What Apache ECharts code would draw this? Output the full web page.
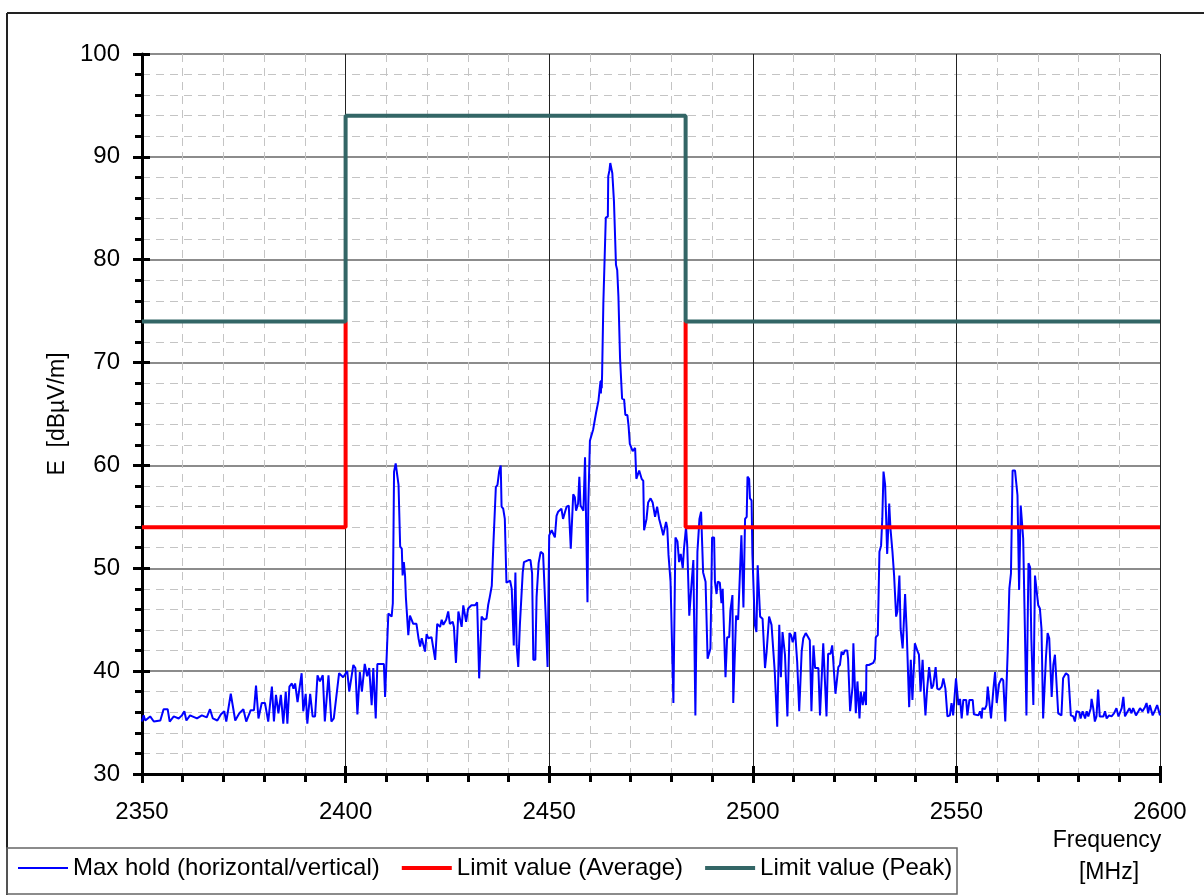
<!DOCTYPE html>
<html>
<head>
<meta charset="utf-8">
<script src="https://cdn.jsdelivr.net/npm/echarts@6/dist/echarts.min.js"></script>
<style>
html,body{margin:0;padding:0;background:#fff;}
#chart{width:1204px;height:895px;}
</style>
</head>
<body>
<div id="chart"></div>
<script>
// ---- data ----
const xTicks = [2350, 2400, 2450, 2500, 2550, 2600];
const yTicks = [30, 40, 50, 60, 70, 80, 90, 100];
const seriesNames = ['Max hold (horizontal/vertical)', 'Limit value (Average)', 'Limit value (Peak)'];
const xAxisTitle = ['Frequency', '[MHz]'];
const yAxisTitle = 'E  [dBµV/m]';

const peakLimitFreq = [2350, 2400, 2400, 2483.5, 2483.5, 2600];
const peakLimitLevel = [74, 74, 94, 94, 74, 74];
const avgLimitLowFreq = [2350, 2400, 2400];
const avgLimitLowLevel = [54, 54, 74];
const avgLimitHighFreq = [2483.5, 2483.5, 2600];
const avgLimitHighLevel = [74, 54, 54];

const maxHoldTrace = [
[2350.0,35.1],[2350.4,35.7],[2350.8,35.2],[2352.0,35.6],[2352.9,35.1],[2354.5,35.2],[2355.3,36.3],[2356.3,36.3],[2356.8,35.1],[2357.8,35.6],
[2359.0,35.4],[2359.8,35.7],[2360.4,36.1],[2360.9,35.2],[2361.8,35.7],[2363.5,35.4],[2364.7,35.7],[2365.9,35.5],[2366.7,36.3],[2367.4,35.4],
[2368.5,35.2],[2369.4,35.8],[2370.2,36.1],[2370.7,35.1],[2371.8,37.8],[2372.9,35.2],[2373.9,35.9],[2374.9,36.3],[2375.6,35.1],[2376.7,36.2],
[2377.5,36.2],[2378.0,38.6],[2378.6,35.4],[2379.4,36.9],[2380.2,36.9],[2381.0,35.1],[2381.9,38.5],[2382.4,35.1],[2382.9,37.7],[2383.5,35.9],
[2384.1,37.7],[2384.7,34.9],[2385.3,38.0],[2385.7,34.9],[2386.2,38.5],[2386.8,38.8],[2387.2,38.3],[2387.6,38.8],[2388.2,37.0],[2389.2,39.8],
[2389.6,36.1],[2390.2,37.8],[2390.6,34.9],[2391.3,37.8],[2391.9,35.6],[2392.5,35.6],[2393.1,39.6],[2393.7,39.0],[2394.4,39.6],[2394.9,35.1],
[2395.8,39.6],[2396.5,35.1],[2397.1,35.4],[2398.4,39.8],[2399.4,39.4],[2400.4,40.0],[2400.9,38.0],[2401.9,40.6],[2402.4,40.3],[2402.9,35.8],
[2403.5,39.9],[2404.0,38.0],[2404.7,40.7],[2405.3,39.5],[2405.8,40.3],[2406.4,36.7],[2406.8,40.3],[2407.4,35.4],[2407.8,40.7],[2409.4,40.7],
[2409.7,37.5],[2410.1,37.5],[2410.5,45.6],[2411.3,45.3],[2411.6,46.6],[2411.9,59.4],[2412.3,60.2],[2412.7,60.2],[2413.0,58.1],[2413.4,52.1],
[2413.8,51.9],[2414.0,49.3],[2414.3,50.6],[2414.6,49.3],[2414.8,47.2],[2415.2,47.2],[2415.4,43.5],[2415.8,45.4],[2416.2,45.0],[2416.6,44.6],
[2417.4,44.6],[2417.9,43.2],[2418.3,42.4],[2418.7,43.2],[2419.1,43.2],[2419.5,41.9],[2419.9,43.6],[2420.3,43.2],[2421.1,43.3],[2422.0,41.1],
[2422.5,44.6],[2423.2,44.3],[2423.6,45.0],[2424.0,44.5],[2424.7,45.0],[2425.2,45.8],[2425.6,44.6],[2426.3,44.8],[2426.6,44.3],[2427.1,40.8],
[2427.7,45.8],[2428.1,45.9],[2428.5,44.3],[2428.9,46.4],[2429.6,44.8],[2430.1,46.1],[2430.9,46.4],[2431.8,46.4],[2432.3,46.7],[2432.8,39.3],
[2433.4,45.3],[2434.0,45.0],[2434.6,45.1],[2435.0,46.4],[2435.4,47.2],[2435.9,48.3],[2436.3,52.4],[2436.7,52.4],[2436.9,57.9],[2437.3,58.1],
[2437.7,59.4],[2438.1,60.0],[2438.3,56.0],[2438.7,55.8],[2439.1,54.8],[2439.5,48.6],[2439.9,48.5],[2440.4,48.8],[2440.8,48.0],[2441.2,47.9],
[2441.3,42.5],[2441.7,49.6],[2442.0,42.5],[2442.4,40.4],[2442.7,40.4],[2442.8,44.5],[2443.2,44.5],[2443.5,49.6],[2443.8,50.6],[2444.9,50.8],
[2445.4,50.8],[2445.8,49.5],[2446.1,41.1],[2446.6,41.1],[2446.9,47.2],[2447.4,50.5],[2447.9,51.6],[2448.5,51.4],[2449.1,45.8],[2449.6,40.4],
[2450.0,53.2],[2450.6,53.7],[2451.0,53.7],[2451.4,53.0],[2451.8,55.1],[2452.2,55.5],[2453.0,55.8],[2453.4,54.8],[2453.9,55.5],[2454.3,56.0],
[2454.8,56.1],[2455.3,51.9],[2455.9,57.2],[2456.3,56.9],[2456.6,55.6],[2457.1,56.3],[2457.4,58.9],[2457.7,56.1],[2458.4,55.6],[2458.8,60.8],
[2459.0,60.8],[2459.4,46.7],[2459.6,56.1],[2460.0,62.4],[2460.4,62.4],[2460.8,63.5],[2461.2,63.6],[2461.5,65.1],[2461.9,65.2],[2462.1,66.3],
[2462.5,66.4],[2462.6,68.2],[2462.7,67.0],[2462.8,68.3],[2462.9,67.5],[2463.0,69.0],[2463.3,75.8],[2463.7,75.9],[2463.9,84.1],[2464.4,84.2],
[2464.5,88.1],[2464.8,88.7],[2465.0,89.4],[2465.3,89.4],[2465.5,88.4],[2465.7,88.4],[2465.9,85.7],[2466.2,85.6],[2466.4,79.5],[2466.7,79.0],
[2467.0,76.4],[2467.2,76.4],[2467.4,70.4],[2467.7,70.3],[2467.9,66.5],[2468.4,66.4],[2468.7,64.9],[2469.2,64.9],[2469.5,63.8],[2469.8,62.1],
[2470.2,62.0],[2470.5,61.4],[2471.1,61.7],[2471.4,58.7],[2471.7,58.7],[2472.1,59.5],[2472.7,58.7],[2473.1,58.5],[2473.3,53.7],[2473.7,53.7],
[2473.9,54.8],[2474.3,56.4],[2474.9,56.8],[2475.4,56.4],[2476.0,55.0],[2476.5,56.0],[2477.0,54.8],[2477.6,53.9],[2478.0,53.2],[2478.7,54.5],
[2479.0,53.9],[2479.3,51.3],[2479.8,48.7],[2480.5,36.9],[2481.0,53.0],[2481.5,52.6],[2481.9,50.6],[2482.3,51.4],[2482.8,50.0],[2483.1,51.9],
[2483.6,54.0],[2483.9,52.2],[2484.4,45.4],[2485.0,48.7],[2485.4,50.8],[2485.9,35.7],[2486.4,51.6],[2486.9,54.8],[2487.3,55.5],[2487.8,49.6],
[2488.4,48.7],[2488.9,41.2],[2489.3,41.2],[2489.6,42.2],[2490.0,53.0],[2490.5,53.0],[2490.7,48.7],[2491.1,47.5],[2491.4,48.7],[2491.9,48.6],
[2492.3,46.6],[2492.6,48.0],[2493.0,48.0],[2493.3,39.4],[2493.7,43.3],[2494.2,43.3],[2494.5,45.9],[2495.0,47.4],[2495.2,36.9],[2495.6,36.9],
[2495.9,45.4],[2496.4,45.0],[2496.8,45.0],[2497.2,53.2],[2497.7,46.2],[2498.1,54.8],[2498.5,55.0],[2498.7,58.9],[2499.1,58.7],[2499.3,56.8],
[2499.7,56.6],[2499.9,51.4],[2500.3,51.4],[2500.5,44.5],[2500.9,43.8],[2501.2,50.3],[2501.6,50.3],[2501.8,45.3],[2502.4,45.1],[2503.0,40.3],
[2503.4,41.9],[2504.0,45.3],[2504.6,44.5],[2505.0,44.5],[2505.4,39.9],[2506.0,34.6],[2506.5,44.5],[2506.9,39.4],[2507.3,43.8],[2507.9,41.6],
[2508.5,35.6],[2509.0,43.7],[2509.4,43.5],[2509.8,42.8],[2510.4,43.8],[2510.9,40.9],[2511.4,36.1],[2512.0,41.9],[2512.4,43.2],[2513.0,43.7],
[2513.6,43.3],[2514.0,43.0],[2514.4,36.1],[2514.9,42.5],[2515.3,40.3],[2515.7,40.4],[2516.1,40.3],[2516.5,35.7],[2516.9,35.7],[2517.3,42.7],
[2517.7,42.7],[2518.1,35.6],[2518.5,41.7],[2519.1,41.7],[2519.5,42.5],[2519.9,42.5],[2520.3,37.8],[2520.6,37.8],[2521.0,40.4],[2521.4,40.6],
[2521.8,41.9],[2522.2,41.6],[2522.6,42.0],[2523.2,42.0],[2523.4,41.2],[2523.9,36.1],[2524.3,36.1],[2524.5,38.5],[2524.7,42.7],[2525.1,42.7],
[2525.3,35.9],[2525.7,39.0],[2526.2,35.4],[2526.5,38.0],[2527.0,36.7],[2527.4,38.0],[2527.8,36.7],[2527.9,40.6],[2528.5,40.6],[2528.8,40.7],
[2529.6,40.8],[2530.0,41.2],[2530.2,43.3],[2530.7,43.5],[2531.1,51.6],[2531.5,52.2],[2531.8,54.8],[2532.1,59.4],[2532.5,58.1],[2532.7,55.5],
[2533.0,51.4],[2533.3,54.2],[2533.5,56.3],[2533.8,53.9],[2534.3,51.6],[2534.7,49.3],[2535.2,45.3],[2535.5,45.8],[2536.0,49.3],[2536.3,44.1],
[2536.8,42.2],[2537.4,47.5],[2537.8,43.8],[2538.4,36.5],[2538.8,41.1],[2539.2,37.2],[2539.8,42.7],[2540.4,42.0],[2540.8,41.6],[2541.2,38.0],
[2541.7,41.1],[2542.1,37.7],[2542.4,35.7],[2542.8,38.2],[2543.3,40.4],[2543.9,38.3],[2544.3,38.6],[2544.9,40.4],[2545.3,38.3],[2545.8,38.2],
[2546.4,38.5],[2546.8,39.3],[2547.3,38.3],[2547.8,35.6],[2548.4,35.7],[2548.8,36.9],[2549.2,35.7],[2549.6,35.7],[2549.9,39.3],[2550.5,36.7],
[2550.9,37.3],[2551.3,35.4],[2551.7,37.2],[2552.4,37.2],[2552.7,35.7],[2553.2,37.2],[2554.0,37.2],[2554.3,35.8],[2555.4,35.7],[2555.8,36.1],
[2556.2,35.4],[2556.4,36.4],[2557.0,36.3],[2557.4,36.7],[2557.7,38.5],[2558.1,38.5],[2558.5,35.4],[2559.1,38.3],[2559.5,39.9],[2559.9,36.9],
[2560.5,38.8],[2561.1,39.3],[2561.5,39.1],[2562.0,35.1],[2562.6,41.9],[2563.0,48.0],[2563.4,49.5],[2563.8,59.5],[2564.4,59.5],[2565.0,57.1],
[2565.4,47.9],[2565.8,56.1],[2566.1,56.0],[2566.4,52.9],[2566.8,44.5],[2567.2,35.7],[2567.7,50.5],[2568.1,50.1],[2568.4,43.2],[2568.9,36.7],
[2569.3,49.3],[2569.7,49.2],[2570.1,46.4],[2570.5,46.1],[2570.9,44.1],[2571.3,35.4],[2572.0,41.4],[2572.4,43.7],[2572.8,43.2],[2573.4,37.5],
[2573.8,40.6],[2574.2,41.6],[2574.6,41.6],[2575.0,35.9],[2575.8,35.7],[2576.2,39.3],[2576.9,39.8],[2577.5,39.6],[2577.9,39.6],[2578.1,35.7],
[2578.7,35.6],[2579.1,35.1],[2579.5,36.1],[2580.2,36.0],[2580.5,35.4],[2581.0,36.1],[2581.6,35.4],[2582.0,36.1],[2582.4,35.6],[2583.0,36.4],
[2583.2,37.3],[2583.6,36.4],[2584.0,35.1],[2584.4,35.6],[2584.8,38.2],[2585.2,35.6],[2586.1,35.6],[2586.5,36.1],[2586.9,35.4],[2587.5,35.7],
[2588.1,35.6],[2588.7,35.9],[2589.3,36.4],[2589.8,35.6],[2590.2,35.7],[2590.6,36.4],[2591.0,37.5],[2591.4,35.6],[2591.8,35.9],[2592.5,36.4],
[2593.0,35.9],[2593.4,36.4],[2594.1,35.7],[2594.7,36.1],[2595.1,36.4],[2595.7,36.1],[2596.3,36.5],[2596.7,36.9],[2597.1,35.9],[2597.5,36.7],
[2598.2,35.7],[2598.8,36.2],[2599.3,36.7],[2600.0,35.7]
];

// ---- chart ----
const FONT = "'Liberation Sans', Arial, sans-serif";
const zip = (xs, ys) => xs.map((x, i) => [x, ys[i]]);
const xMin = xTicks[0], xMax = xTicks[xTicks.length - 1], xStep = xTicks[1] - xTicks[0];
const yMin = yTicks[0], yMax = yTicks[yTicks.length - 1], yStep = yTicks[1] - yTicks[0];
const plainNum = v => String(v);

const chart = echarts.init(document.getElementById('chart'), null, {renderer: 'canvas'});

const option = {
  animation: false,
  backgroundColor: '#ffffff',
  textStyle: {fontFamily: FONT},
  grid: {left: 142, right: 44, top: 54, bottom: 121, containLabel: false, outerBoundsMode: 'none'},
  xAxis: [{
    type: 'value', min: xMin, max: xMax, interval: xStep,
    axisLine: {show: true, onZero: false, lineStyle: {color: '#000', width: 3}},
    axisTick: {show: true, length: 9, lineStyle: {color: '#000', width: 3}},
    minorTick: {show: true, splitNumber: 5, length: 8, lineStyle: {color: '#000', width: 3}},
    axisLabel: {fontFamily: FONT, fontSize: 24, color: '#000', margin: 26, formatter: plainNum},
    splitLine: {show: true, lineStyle: {color: '#222', width: 1}},
    minorSplitLine: {show: true, lineStyle: {color: '#c4c4c4', width: 1, type: [8, 6]}}
  }, {
    type: 'value', min: xMin, max: xMax, interval: xStep, position: 'bottom',
    axisLine: {show: false}, axisLabel: {show: false}, splitLine: {show: false},
    axisTick: {show: true, inside: true, length: 8, lineStyle: {color: '#000', width: 3}}
  }],
  yAxis: [{
    type: 'value', min: yMin, max: yMax, interval: yStep,
    name: yAxisTitle, nameLocation: 'middle', nameGap: 73, nameRotate: 90,
    nameTextStyle: {fontFamily: FONT, fontSize: 23, color: '#000'},
    axisLine: {show: true, onZero: false, lineStyle: {color: '#000', width: 3}},
    axisTick: {show: true, length: 9, lineStyle: {color: '#000', width: 3}},
    minorTick: {show: true, splitNumber: 5, length: 7, lineStyle: {color: '#000', width: 3}},
    axisLabel: {fontFamily: FONT, fontSize: 24, color: '#000', margin: 22, formatter: plainNum},
    splitLine: {show: true, lineStyle: {color: '#666', width: 1.5}},
    minorSplitLine: {show: true, lineStyle: {color: '#c4c4c4', width: 1, type: [8, 6]}}
  }, {
    type: 'value', min: yMin, max: yMax, interval: yStep, position: 'left',
    axisLine: {show: false}, axisLabel: {show: false}, splitLine: {show: false},
    axisTick: {show: true, inside: true, length: 8, lineStyle: {color: '#000', width: 3}}
  }],
  legend: {
    show: true, left: 18, top: 856, orient: 'horizontal', padding: 0,
    itemWidth: 50, itemHeight: 14, itemGap: 22,
    textStyle: {fontFamily: FONT, fontSize: 24, color: '#000'},
    data: [
      {name: seriesNames[0], icon: 'path://M0,0 L50,0 L50,2 L0,2 Z', itemStyle: {color: '#0000ff'}},
      {name: seriesNames[1], icon: 'path://M0,0 L50,0 L50,4 L0,4 Z', itemStyle: {color: '#ff0000'}},
      {name: seriesNames[2], icon: 'path://M0,0 L50,0 L50,4 L0,4 Z', itemStyle: {color: '#336666'}}
    ]
  },
  graphic: [
    {type: 'line', shape: {x1: 7, y1: 13, x2: 1204, y2: 13}, style: {stroke: '#222', lineWidth: 2}, silent: true},
    {type: 'line', shape: {x1: 7, y1: 13, x2: 7, y2: 895}, style: {stroke: '#222', lineWidth: 2}, silent: true},
    {type: 'rect', shape: {x: 7, y: 848, width: 950, height: 46}, style: {fill: 'none', stroke: '#666', lineWidth: 1.5}, silent: true},
    {type: 'text', x: 1107, y: 829, silent: true,
     style: {text: xAxisTitle[0], fill: '#000', font: "23px 'Liberation Sans', Arial, sans-serif", align: 'center', verticalAlign: 'top'}},
    {type: 'text', x: 1109, y: 861, silent: true,
     style: {text: xAxisTitle[1], fill: '#000', font: "23px 'Liberation Sans', Arial, sans-serif", align: 'center', verticalAlign: 'top'}}
  ],
  series: [{
    name: seriesNames[0], type: 'line', data: maxHoldTrace,
    showSymbol: false, symbol: 'none', z: 2,
    lineStyle: {color: '#0000ff', width: 2}, itemStyle: {color: '#0000ff'}
  }, {
    name: seriesNames[1], type: 'line', data: zip(avgLimitLowFreq, avgLimitLowLevel),
    showSymbol: false, symbol: 'none', z: 3,
    lineStyle: {color: '#ff0000', width: 4}, itemStyle: {color: '#ff0000'}
  }, {
    name: seriesNames[1], type: 'line', data: zip(avgLimitHighFreq, avgLimitHighLevel),
    showSymbol: false, symbol: 'none', z: 3,
    lineStyle: {color: '#ff0000', width: 4}, itemStyle: {color: '#ff0000'}
  }, {
    name: seriesNames[2], type: 'line', data: zip(peakLimitFreq, peakLimitLevel),
    showSymbol: false, symbol: 'none', z: 4,
    lineStyle: {color: '#336666', width: 4}, itemStyle: {color: '#336666'}
  }]
};
chart.setOption(option);
</script>
</body>
</html>
